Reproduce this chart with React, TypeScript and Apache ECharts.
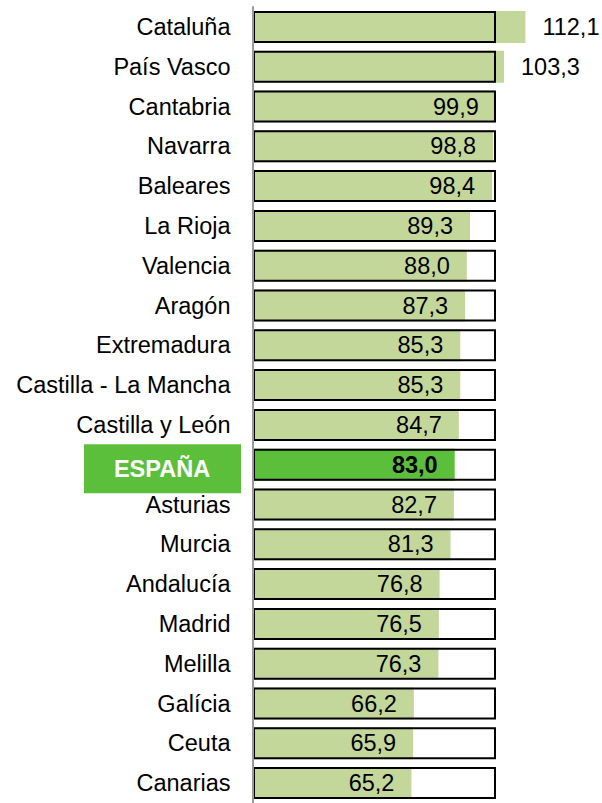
import React, { useEffect, useRef } from "react";
import * as echarts from "echarts";

const regions = [
  "Cataluña", "País Vasco", "Cantabria", "Navarra", "Baleares", "La Rioja",
  "Valencia", "Aragón", "Extremadura", "Castilla - La Mancha", "Castilla y León",
  "ESPAÑA", "Asturias", "Murcia", "Andalucía", "Madrid", "Melilla", "Galícia",
  "Ceuta", "Canarias",
];
const values = [
  112.1, 103.3, 99.9, 98.8, 98.4, 89.3, 88.0, 87.3, 85.3, 85.3, 84.7,
  83.0, 82.7, 81.3, 76.8, 76.5, 76.3, 66.2, 65.9, 65.2,
];
const reference = regions.map(() => 100);
const highlight = "ESPAÑA";

const FONT = "'Liberation Sans', Arial, sans-serif";
const LIGHT = "#C4D79B";
const DARK = "#5CBF3B";

export default function App() {
  const ref = useRef<HTMLDivElement>(null);
  useEffect(() => {
    if (!ref.current) return;
    const chart = echarts.init(ref.current, undefined, { renderer: "svg" });
    const fmt = (v: number) => v.toFixed(1).replace(".", ",");
    chart.setOption({
      animation: false,
      backgroundColor: "#fff",
      grid: { left: 253, top: 7, width: 340.2, height: 802 },
      xAxis: { type: "value", min: 0, max: 140, show: false, splitLine: { show: false } },
      yAxis: {
        type: "category",
        inverse: true,
        data: regions,
        z: 5,
        axisTick: { show: false },
        axisLine: { show: true, lineStyle: { color: "#9a9a9a", width: 2 } },
        axisLabel: {
          margin: 22.5,
          fontSize: 23.5,
          color: "#000",
          fontFamily: FONT,
          formatter: (v: string) => (v === highlight ? "" : v),
        },
      },
      series: [
        {
          type: "bar",
          barWidth: 32,
          barGap: "-100%",
          data: values.map((v, i) => {
            const isH = regions[i] === highlight;
            return {
              value: v,
              itemStyle: { color: isH ? DARK : LIGHT },
              label: {
                show: true,
                position: v > 100 ? "right" : "insideRight",
                distance: 17,
                fontSize: 23.5,
                fontFamily: FONT,
                color: "#000",
                fontWeight: isH ? "bold" : "normal",
                formatter: () => fmt(v),
              },
            };
          }),
        },
        {
          type: "bar",
          barWidth: 32,
          barGap: "-100%",
          silent: true,
          data: reference,
          itemStyle: { color: "rgba(0,0,0,0)", borderColor: "#000", borderWidth: 2 },
          label: { show: false },
        },
      ],
    });
    const x0 = chart.convertToPixel({ xAxisIndex: 0 }, 0) as number;
    const yc = chart.convertToPixel({ yAxisIndex: 0 }, highlight) as number;
    chart.setOption({
      graphic: [
        {
          type: "rect",
          shape: { x: x0 - 169, y: yc - 20.5, width: 157, height: 49 },
          style: { fill: DARK },
          z: 10,
        },
        {
          type: "text",
          x: x0 - 91,
          y: yc + 4,
          z: 11,
          style: {
            text: highlight,
            fill: "#fff",
            font: `bold 23.5px ${FONT}`,
            textAlign: "center",
            textVerticalAlign: "middle",
          },
        },
      ],
    });
    return () => chart.dispose();
  }, []);
  return (
    <div
      ref={ref}
      style={{ position: "absolute", left: 0, top: 0, width: 602, height: 803 }}
    />
  );
}
